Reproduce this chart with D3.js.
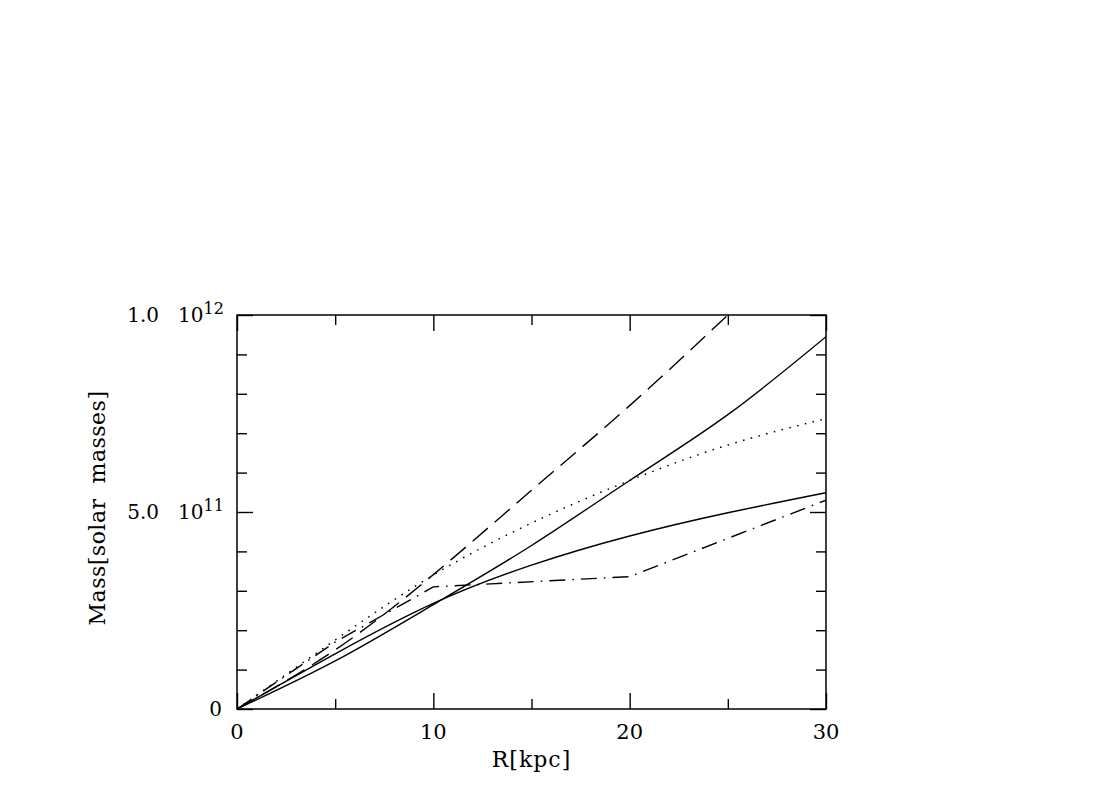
<!DOCTYPE html>
<html>
<head>
<meta charset="utf-8">
<script src="https://cdn.jsdelivr.net/npm/d3@7"></script>
<style>
  body { margin: 0; background: #fff; }
  svg { display: block; }
  text { font-family: "DejaVu Serif", "Liberation Serif", serif; fill: #000; }
</style>
</head>
<body>
<svg id="chart" width="1100" height="788"></svg>
<script>
// radius in kpc, masses in solar masses
var radiusA = [0, 5, 10, 15, 20, 25, 30];
var massSteep = [0, 1.22e11, 2.65e11, 4.15e11, 5.8e11, 7.47e11, 9.45e11];
var massFlat = [0, 1.4e11, 2.68e11, 3.65e11, 4.39e11, 4.98e11, 5.49e11];
var massDotted = [0, 1.75e11, 3.4e11, 4.72e11, 5.8e11, 6.7e11, 7.37e11];

var radiusDashed = [0, 5, 10, 15, 20, 25];
var massDashed = [0, 1.5e11, 3.41e11, 5.55e11, 7.7e11, 10.0e11];

var radiusDashDot = [0, 5, 10, 20, 30];
var massDashDot = [0, 1.7e11, 3.1e11, 3.36e11, 5.3e11];

var xMajorTicks = [0, 10, 20, 30];
var xMinorTicks = [5, 15, 25];
var yMajorTicks = [0, 5e11, 1e12];
var yMinorTicks = [1e11, 2e11, 3e11, 4e11, 6e11, 7e11, 8e11, 9e11];
var yLabelMant = ["0", "5.0", "1.0"];
var yLabelExp = ["", "11", "12"];

var svg = d3.select("#chart");

var plotLeft = 237, plotRight = 826, plotTop = 315, plotBottom = 709;

var x = d3.scaleLinear().domain([0, 30]).range([plotLeft, plotRight]);
var y = d3.scaleLinear().domain([0, 1e12]).range([plotBottom, plotTop]);

// clip for curves
svg.append("clipPath").attr("id", "plotClip")
  .append("rect")
  .attr("x", plotLeft).attr("y", plotTop)
  .attr("width", plotRight - plotLeft).attr("height", plotBottom - plotTop);

function zipPts(xs, ys){
  return xs.map(function(v, i){ return [v, ys[i]]; });
}

var smoothLine = d3.line()
  .x(function(d){ return x(d[0]); })
  .y(function(d){ return y(d[1]); })
  .curve(d3.curveNatural);

var straightLine = d3.line()
  .x(function(d){ return x(d[0]); })
  .y(function(d){ return y(d[1]); });

var curves = [
  {pts: zipPts(radiusA, massSteep), gen: smoothLine, dash: null},
  {pts: zipPts(radiusA, massFlat), gen: smoothLine, dash: null},
  {pts: zipPts(radiusA, massDotted), gen: smoothLine, dash: "1.6,6.4"},
  {pts: zipPts(radiusDashed, massDashed), gen: smoothLine, dash: "20,9"},
  {pts: zipPts(radiusDashDot, massDashDot), gen: straightLine, dash: "16,7,1.6,7"}
];

var curveGroup = svg.append("g").attr("clip-path", "url(#plotClip)");

curves.forEach(function(c){
  curveGroup.append("path")
    .attr("d", c.gen(c.pts))
    .attr("fill", "none")
    .attr("stroke", "#000")
    .attr("stroke-width", 1.4)
    .attr("stroke-dasharray", c.dash);
});

// inward ticks on all four sides
function addTicks(axisFn, scale, vals, size, transform){
  var g = svg.append("g")
    .attr("transform", transform)
    .call(axisFn(scale).tickValues(vals).tickSize(-size).tickSizeOuter(0).tickFormat(""));
  g.select(".domain").remove();
  g.selectAll("line").attr("stroke", "#000").attr("stroke-width", 1.4);
}

addTicks(d3.axisBottom, x, xMajorTicks, 16, "translate(0," + plotBottom + ")");
addTicks(d3.axisBottom, x, xMinorTicks, 10, "translate(0," + plotBottom + ")");
addTicks(d3.axisTop, x, xMajorTicks, 16, "translate(0," + plotTop + ")");
addTicks(d3.axisTop, x, xMinorTicks, 10, "translate(0," + plotTop + ")");
addTicks(d3.axisLeft, y, yMajorTicks, 16, "translate(" + plotLeft + ",0)");
addTicks(d3.axisLeft, y, yMinorTicks, 10, "translate(" + plotLeft + ",0)");
addTicks(d3.axisRight, y, yMajorTicks, 16, "translate(" + plotRight + ",0)");
addTicks(d3.axisRight, y, yMinorTicks, 10, "translate(" + plotRight + ",0)");

svg.append("rect")
  .attr("x", plotLeft).attr("y", plotTop)
  .attr("width", plotRight - plotLeft).attr("height", plotBottom - plotTop)
  .attr("fill", "none")
  .attr("stroke", "#000")
  .attr("stroke-width", 1.5);

// x tick labels
svg.selectAll(".xlab")
  .data(xMajorTicks)
  .enter()
  .append("text")
  .attr("class", "xlab")
  .attr("x", function(d){ return x(d); })
  .attr("y", plotBottom + 30)
  .attr("text-anchor", "middle")
  .attr("font-size", 21)
  .text(function(d){ return d; });

// y tick labels: mantissa and power of ten
yMajorTicks.forEach(function(v, i){
  var ty = y(v) + 7;
  if(yLabelExp[i] == ""){
    svg.append("text")
      .attr("x", plotLeft - 15).attr("y", ty)
      .attr("text-anchor", "end")
      .attr("font-size", 20)
      .text(yLabelMant[i]);
    return;
  }
  svg.append("text")
    .attr("x", plotLeft - 78).attr("y", ty)
    .attr("text-anchor", "end")
    .attr("font-size", 20)
    .text(yLabelMant[i]);
  var t = svg.append("text")
    .attr("x", plotLeft - 59).attr("y", ty)
    .attr("font-size", 20);
  t.append("tspan").text("10");
  t.append("tspan")
    .attr("dy", -8)
    .attr("font-size", 16)
    .text(yLabelExp[i]);
});

// axis titles
svg.append("text")
  .attr("x", (plotLeft + plotRight) / 2)
  .attr("y", plotBottom + 58)
  .attr("text-anchor", "middle")
  .attr("font-size", 22)
  .attr("letter-spacing", 1)
  .text("R[kpc]");

svg.append("text")
  .attr("transform", "translate(105,508) rotate(-90)")
  .attr("text-anchor", "middle")
  .attr("font-size", 22)
  .attr("letter-spacing", 0.5)
  .style("white-space", "pre")
  .text("Mass[solar  masses]");
</script>
</body>
</html>
